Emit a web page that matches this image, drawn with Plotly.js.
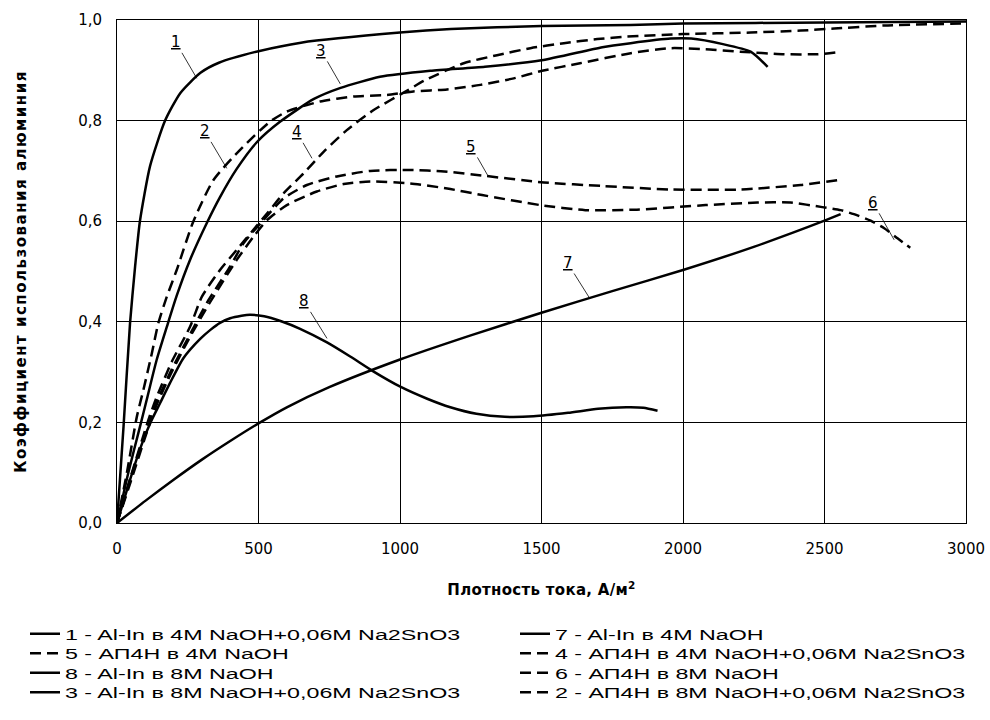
<!DOCTYPE html>
<html>
<head>
<meta charset="utf-8">
<script src="https://cdn.plot.ly/plotly-3.0.1.min.js"></script>
<style>
html,body{margin:0;padding:0;background:#fff;}
#chart{width:990px;height:720px;}
#chart .ytitle{letter-spacing:1.5px;}
#chart .xtitle{letter-spacing:0.3px;}
/* the reference's legend lettering is horizontally stretched */
#chart g[class^="legend"] text{
  transform-box: fill-box; transform-origin: 0% 50%; transform: scaleX(1.55);
}
</style>
</head>
<body>
<div id="chart"></div>
<script>
// ---- Data ----
const x1 = [0, 23, 46, 64, 81, 117, 170, 224, 295, 360, 500, 650, 1000, 1180, 1500, 1815, 2000, 2500, 3000];
const y1 = [0, 0.191, 0.397, 0.51, 0.6, 0.71, 0.8, 0.855, 0.895, 0.915, 0.938, 0.955, 0.975, 0.982, 0.988, 0.99, 0.993, 0.995, 0.997];

const x2 = [0, 35, 70, 93, 123, 146, 176, 211, 270, 341, 435, 541, 600, 718, 836, 954, 1047, 1166, 1284, 1402, 1502, 1636, 1815, 1956, 2080, 2202, 2357, 2475, 2549];
const y2 = [0, 0.1, 0.211, 0.264, 0.337, 0.397, 0.45, 0.503, 0.6, 0.682, 0.742, 0.798, 0.818, 0.838, 0.848, 0.851, 0.858, 0.862, 0.871, 0.884, 0.899, 0.914, 0.934, 0.944, 0.942, 0.937, 0.932, 0.932, 0.936];

const x3 = [0, 40, 81, 105, 140, 176, 211, 258, 317, 364, 423, 494, 577, 696, 790, 929, 1107, 1300, 1500, 1715, 1815, 1956, 2029, 2141, 2239, 2299];
const y3 = [0, 0.1, 0.191, 0.245, 0.324, 0.39, 0.452, 0.523, 0.596, 0.648, 0.704, 0.757, 0.798, 0.843, 0.865, 0.887, 0.899, 0.907, 0.92, 0.946, 0.954, 0.963, 0.963, 0.952, 0.937, 0.907];

const x4 = [0, 50, 111, 140, 193, 258, 300, 364, 423, 482, 530, 588, 659, 730, 812, 907, 1030, 1084, 1225, 1343, 1461, 1579, 1697, 1803, 2000, 2239, 2416, 2534, 2711, 3000];
const y4 = [0, 0.095, 0.205, 0.25, 0.32, 0.39, 0.45, 0.503, 0.543, 0.583, 0.615, 0.655, 0.695, 0.738, 0.781, 0.821, 0.861, 0.879, 0.914, 0.93, 0.944, 0.954, 0.962, 0.967, 0.972, 0.975, 0.979, 0.983, 0.989, 0.993];

const x5 = [0, 50, 111, 140, 193, 258, 320, 400, 447, 517, 588, 671, 777, 895, 1036, 1156, 1302, 1509, 1715, 1959, 2202, 2416, 2551];
const y5 = [0, 0.09, 0.195, 0.24, 0.305, 0.375, 0.44, 0.51, 0.556, 0.602, 0.645, 0.672, 0.689, 0.7, 0.702, 0.699, 0.69, 0.677, 0.67, 0.663, 0.663, 0.672, 0.682];

const x6 = [0, 50, 111, 140, 193, 258, 330, 423, 482, 530, 600, 706, 801, 895, 1036, 1167, 1290, 1496, 1655, 1837, 2080, 2263, 2380, 2492, 2557, 2604, 2663, 2711, 2758, 2803];
const y6 = [0, 0.085, 0.19, 0.235, 0.3, 0.37, 0.44, 0.523, 0.569, 0.602, 0.632, 0.659, 0.674, 0.679, 0.675, 0.665, 0.652, 0.632, 0.622, 0.623, 0.632, 0.637, 0.637, 0.628, 0.622, 0.614, 0.601, 0.586, 0.566, 0.547];

const x7 = [0, 100, 200, 300, 400, 500, 600, 750, 1000, 1250, 1500, 1750, 2000, 2250, 2500, 2557];
const y7 = [0, 0.044, 0.086, 0.126, 0.163, 0.198, 0.23, 0.27, 0.325, 0.373, 0.418, 0.461, 0.503, 0.549, 0.601, 0.614];

const x8 = [0, 40, 80, 117, 152, 187, 235, 294, 330, 364, 400, 440, 470, 520, 580, 647, 742, 824, 907, 1001, 1096, 1178, 1270, 1370, 1472, 1594, 1700, 1800, 1860, 1910];
const y8 = [0, 0.075, 0.145, 0.198, 0.238, 0.278, 0.328, 0.366, 0.384, 0.398, 0.407, 0.412, 0.414, 0.411, 0.401, 0.386, 0.359, 0.331, 0.301, 0.271, 0.247, 0.23, 0.217, 0.211, 0.212, 0.219, 0.227, 0.23, 0.229, 0.223];

const names = {
  1: "1 - Al-In в 4M NaOH+0,06M Na2SnO3",
  7: "7 - Al-In в 4M NaOH",
  5: "5 - АП4Н в 4M NaOH",
  4: "4 - АП4Н в 4M NaOH+0,06M Na2SnO3",
  8: "8 - Al-In в 8M NaOH",
  6: "6 - АП4Н в 8M NaOH",
  3: "3 - Al-In в 8M NaOH+0,06M Na2SnO3",
  2: "2 - АП4Н в 8M NaOH+0,06M Na2SnO3"
};

// curve label text and anchor point on the curve (data) with pixel offsets
const labelIds = ["1", "2", "3", "4", "5", "6", "7", "8"];
const labelX = [282, 388, 789, 689, 1309, 2746, 1670, 742];
const labelY = [0.884, 0.705, 0.873, 0.725, 0.692, 0.563, 0.447, 0.367];
const labelAx = [-21, -22, -19, -15, -16, -21, -22, -23];
const labelAy = [-36, -37, -33, -26, -28, -37, -35, -37];

// ---- Traces ----
const solid = {color: "#000", width: 2.5, dash: "solid", shape: "spline", smoothing: 0.6};
const dashed = {color: "#000", width: 2.5, dash: "11px,6px", shape: "spline", smoothing: 0.6};

function tr(x, y, id, line, legend) {
  return {x: x, y: y, name: names[id], type: "scatter", mode: "lines", line: line,
          hoverinfo: "skip", legend: legend, showlegend: true};
}

// legend order (2 columns x 4 rows, read row by row): 1,7 / 5,4 / 8,6 / 3,2
const data = [
  tr(x1, y1, 1, solid, "legend"),
  tr(x7, y7, 7, solid, "legend2"),
  tr(x5, y5, 5, dashed, "legend3"),
  tr(x4, y4, 4, dashed, "legend4"),
  tr(x8, y8, 8, solid, "legend5"),
  tr(x6, y6, 6, dashed, "legend6"),
  tr(x3, y3, 3, solid, "legend7"),
  tr(x2, y2, 2, dashed, "legend8")
];

const font = "DejaVu Sans, Liberation Sans, Arial, sans-serif";
const legendFont = "Liberation Sans, Arial, sans-serif";

const annotations = labelIds.map((t, i) => ({
  x: labelX[i], y: labelY[i], xref: "x", yref: "y",
  text: "<u>" + t + "</u>",
  showarrow: true, arrowhead: 0, arrowwidth: 0.8, arrowcolor: "#000",
  ax: labelAx[i], ay: labelAy[i],
  font: {family: font, size: 15, color: "#000"}
}));

const legendRowsY = [634, 653.5, 673, 692.5];
const legendColsX = [25, 515];
function legendAt(col, row) {
  return {
    orientation: "h", xref: "container", yref: "container",
    x: legendColsX[col] / 990, y: 1 - legendRowsY[row] / 720, xanchor: "left", yanchor: "middle",
    entrywidth: 440, entrywidthmode: "pixels",
    font: {family: legendFont, size: 15, color: "#000"},
    itemwidth: 30, bgcolor: "rgba(0,0,0,0)", borderwidth: 0
  };
}

const layout = {
  width: 990, height: 720,
  paper_bgcolor: "#fff", plot_bgcolor: "#fff",
  margin: {l: 117, r: 24, t: 20, b: 197, autoexpand: false},
  separators: ", ",
  font: {family: font, color: "#000", size: 15},
  showlegend: true,
  legend: legendAt(0, 0),
  legend2: legendAt(1, 0),
  legend3: legendAt(0, 1),
  legend4: legendAt(1, 1),
  legend5: legendAt(0, 2),
  legend6: legendAt(1, 2),
  legend7: legendAt(0, 3),
  legend8: legendAt(1, 3),
  xaxis: {
    range: [0, 3000], dtick: 500, tick0: 0, automargin: false,
    showgrid: true, gridcolor: "#000", gridwidth: 1,
    showline: true, linecolor: "#000", linewidth: 1, mirror: true,
    zeroline: false, ticks: "", ticklabelstandoff: 12,
    tickfont: {family: font, size: 15, color: "#000"},
    title: {text: "Плотность тока, А/м<sup>2</sup>", standoff: 27,
            font: {family: font, size: 15, color: "#000", weight: "bold"}}
  },
  yaxis: {
    range: [0, 1], dtick: 0.2, tick0: 0, tickformat: ".1f", automargin: false,
    showgrid: true, gridcolor: "#000", gridwidth: 1,
    showline: true, linecolor: "#000", linewidth: 1, mirror: true,
    zeroline: false, ticks: "", ticklabelstandoff: 11,
    tickfont: {family: font, size: 15, color: "#000"},
    title: {text: "Коэффициент использования алюминия", standoff: 47,
            font: {family: font, size: 15, color: "#000", weight: "bold"}}
  },
  annotations: annotations
};

Plotly.newPlot("chart", data, layout, {staticPlot: true, displayModeBar: false});
</script>
</body>
</html>
